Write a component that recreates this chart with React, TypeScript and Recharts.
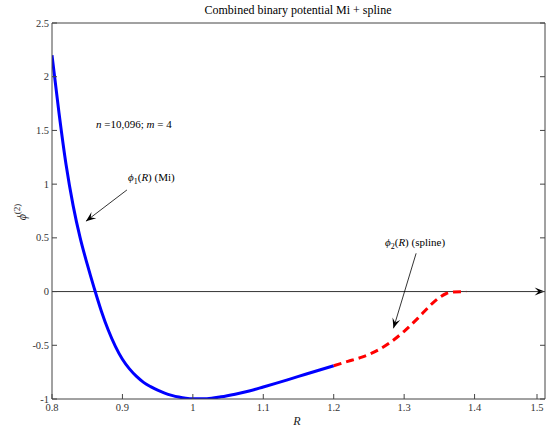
import { LineChart, Line, XAxis, YAxis, ReferenceLine } from "recharts";

// phi_1(R), Mi potential (blue)
const miR = [0.8, 0.81, 0.82, 0.83, 0.84, 0.85, 0.86, 0.87, 0.88, 0.89, 0.9, 0.91, 0.92, 0.93, 0.94, 0.95, 0.96, 0.97, 0.98, 0.99, 1.0, 1.02, 1.04, 1.06, 1.08, 1.1, 1.12, 1.14, 1.16, 1.18, 1.2];
const miPhi = [2.2, 1.66, 1.18, 0.8, 0.5, 0.255, 0.03, -0.18, -0.36, -0.51, -0.63, -0.72, -0.79, -0.845, -0.885, -0.918, -0.945, -0.966, -0.982, -0.993, -0.998, -0.997, -0.98, -0.955, -0.925, -0.888, -0.85, -0.81, -0.77, -0.73, -0.69];

// phi_2(R), spline (red dashed)
const splineR = [1.2, 1.22, 1.24, 1.26, 1.28, 1.3, 1.32, 1.34, 1.35, 1.36, 1.37, 1.388];
const splinePhi = [-0.69, -0.65, -0.61, -0.555, -0.475, -0.37, -0.245, -0.11, -0.055, -0.018, -0.003, 0];

const xTicks = [0.8, 0.9, 1, 1.1, 1.2, 1.3, 1.4, 1.5];
const yTicks = [-1, -0.5, 0, 0.5, 1, 1.5, 2, 2.5];

// annotation arrows, tail -> head, in data units
const arrowMi = [{ x: 0.9064, y: 0.946 }, { x: 0.8482, y: 0.655 }];
const arrowSpline = [{ x: 1.317, y: 0.356 }, { x: 1.2848, y: -0.342 }];

const miData = miR.map((r, i) => ({ r, phi: miPhi[i] }));
const splineData = splineR.map((r, i) => ({ r, phi: splinePhi[i] }));

const FONT = "'Liberation Serif', 'DejaVu Serif', serif";
const AXIS = "#444";
const W = 547;
const H = 428;

const fmt = (v: number) => String(v);

// matlab-ish filled arrowhead
function arrowHead(x1: number, y1: number, x2: number, y2: number, len = 10, half = 4) {
  const a = Math.atan2(y2 - y1, x2 - x1);
  const cx = Math.cos(a), sx = Math.sin(a);
  const bx = x2 - len * cx, by = y2 - len * sx;
  const mx = x2 - len * 0.6 * cx, my = y2 - len * 0.6 * sx;
  const p1 = `${bx - half * sx},${by + half * cx}`;
  const p2 = `${bx + half * sx},${by - half * cx}`;
  return `${x2},${y2} ${p1} ${mx},${my} ${p2}`;
}

const arrowShape = (props: any) => {
  const { x1, y1, x2, y2 } = props;
  return (
    <g>
      <line x1={x1} y1={y1} x2={x2} y2={y2} stroke="#000" strokeWidth={0.8} />
      <polygon points={arrowHead(x1, y1, x2, y2)} fill="#000" />
    </g>
  );
};

const BottomTick = (props: any) => {
  const { x, y, payload } = props;
  return (
    <g>
      <line x1={x} x2={x} y1={y} y2={y - 5} stroke={AXIS} />
      <text x={x} y={y + 12} textAnchor="middle" fontFamily={FONT} fontSize={10.5} fill="#333">
        {fmt(payload.value)}
      </text>
    </g>
  );
};

const TopTick = (props: any) => {
  const { x, y } = props;
  return <line x1={x} x2={x} y1={y} y2={y + 5} stroke={AXIS} />;
};

const LeftTick = (props: any) => {
  const { x, y, payload } = props;
  return (
    <g>
      <line x1={x} x2={x + 5} y1={y} y2={y} stroke={AXIS} />
      <text x={x - 3} y={y + 3.5} textAnchor="end" fontFamily={FONT} fontSize={10.5} fill="#333">
        {fmt(payload.value)}
      </text>
    </g>
  );
};

const RightTick = (props: any) => {
  const { x, y } = props;
  return <line x1={x} x2={x - 5} y1={y} y2={y} stroke={AXIS} />;
};

export default function App() {
  return (
    <div style={{ position: "absolute", left: 0, top: 0, width: W, height: H, background: "#fff" }}>
      <LineChart width={W} height={H} margin={{ top: 22, right: 1, bottom: 28, left: 51 }}>
        <XAxis
          dataKey="r"
          type="number"
          domain={[0.8, 1.5]}
          ticks={xTicks}
          allowDataOverflow
          height={1}
          tickSize={0}
          tickMargin={0}
          tick={BottomTick}
          tickLine={false}
          axisLine={{ stroke: AXIS }}
        />
        <XAxis
          xAxisId="top"
          orientation="top"
          type="number"
          domain={[0.8, 1.5]}
          ticks={xTicks}
          allowDataOverflow
          height={1}
          tickSize={0}
          tickMargin={0}
          tick={TopTick}
          tickLine={false}
          axisLine={{ stroke: AXIS }}
        />
        <YAxis
          type="number"
          domain={[-1, 2.5]}
          ticks={yTicks}
          allowDataOverflow
          width={1}
          tickSize={0}
          tickMargin={0}
          tick={LeftTick}
          tickLine={false}
          axisLine={{ stroke: AXIS }}
        />
        <YAxis
          yAxisId="right"
          orientation="right"
          type="number"
          domain={[-1, 2.5]}
          ticks={yTicks}
          allowDataOverflow
          width={1}
          tickSize={0}
          tickMargin={0}
          tick={RightTick}
          tickLine={false}
          axisLine={{ stroke: AXIS }}
        />
        <ReferenceLine
          segment={[{ x: 0.8, y: 0 }, { x: 1.4995, y: 0 }]}
          ifOverflow="visible"
          shape={arrowShape}
        />
        <ReferenceLine segment={arrowMi} ifOverflow="visible" shape={arrowShape} />
        <ReferenceLine segment={arrowSpline} ifOverflow="visible" shape={arrowShape} />
        <Line
          data={miData}
          dataKey="phi"
          type="monotone"
          stroke="#0000ff"
          strokeWidth={3}
          dot={false}
          isAnimationActive={false}
        />
        <Line
          data={splineData}
          dataKey="phi"
          type="monotone"
          stroke="#ff0000"
          strokeWidth={3}
          strokeDasharray="8 5"
          dot={false}
          isAnimationActive={false}
        />
      </LineChart>
      <svg
        width={W}
        height={H}
        style={{ position: "absolute", left: 0, top: 0, pointerEvents: "none" }}
        fontFamily={FONT}
      >
        <text x={298} y={14} textAnchor="middle" fontSize={12} fill="#000">
          Combined binary potential Mi + spline
        </text>
        <text x={297} y={425} textAnchor="middle" fontSize={12} fontStyle="italic" fill="#222">
          R
        </text>
        <text transform="translate(26,212) rotate(-90)" textAnchor="middle" fontSize={12} fill="#222">
          <tspan fontStyle="italic">ϕ</tspan>
          <tspan dy={-6} fontSize={9}>(2)</tspan>
        </text>
        <text x={96} y={128} fontSize={11} fill="#000">
          <tspan fontStyle="italic">n</tspan> =10,096; <tspan fontStyle="italic">m</tspan> = 4
        </text>
        <text x={128} y={181} fontSize={11} fill="#000">
          <tspan fontStyle="italic">ϕ</tspan>
          <tspan dy={3} fontSize={8}>1</tspan>
          <tspan dy={-3}>(</tspan>
          <tspan fontStyle="italic">R</tspan>) (Mi)
        </text>
        <text x={385} y={246} fontSize={11} fill="#000">
          <tspan fontStyle="italic">ϕ</tspan>
          <tspan dy={3} fontSize={8}>2</tspan>
          <tspan dy={-3}>(</tspan>
          <tspan fontStyle="italic">R</tspan>) (spline)
        </text>
      </svg>
    </div>
  );
}
